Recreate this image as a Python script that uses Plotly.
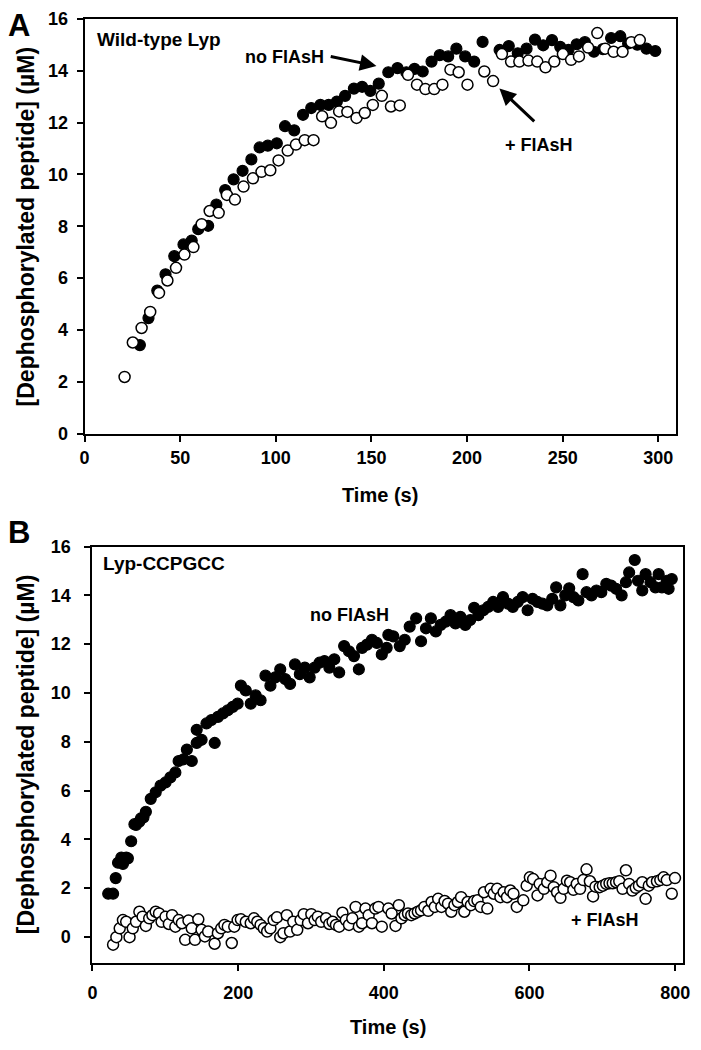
import plotly.graph_objects as go

# ---------------- Panel A: Wild-type Lyp ----------------
a_nofl_t = [28.9, 33.4, 38.0, 42.3, 46.9, 51.7, 56.0, 59.4, 64.6, 68.9,
            73.5, 77.9, 82.6, 87.2, 91.5, 95.8, 100.5, 104.8, 109.6, 114.2,
            118.5, 123.3, 127.6, 131.9, 136.2, 140.8, 145.1, 149.4, 153.8, 158.8,
            163.6, 168.2, 172.5, 176.8, 181.4, 185.7, 190.1, 194.4, 199.0, 203.7,
            208.1, 217.0, 221.8, 226.5, 231.1, 235.5, 239.8, 244.4, 248.7, 253.0,
            257.3, 261.6, 266.3, 271.0, 275.3, 280.1, 284.2, 289.0, 293.8, 298.4]
a_nofl_v = [3.42, 4.46, 5.52, 6.15, 6.85, 7.30, 7.45, 7.89, 8.02, 8.84,
            9.40, 9.81, 10.14, 10.58, 11.04, 11.11, 11.20, 11.86, 11.70, 12.30,
            12.56, 12.68, 12.68, 12.81, 13.03, 13.31, 13.38, 13.22, 13.50, 13.94,
            14.10, 13.94, 14.07, 13.97, 14.35, 14.60, 14.55, 14.85, 14.55, 14.35,
            15.11, 14.80, 14.95, 14.67, 14.85, 15.20, 14.98, 15.18, 14.92, 14.80,
            15.02, 15.10, 14.73, 14.83, 15.26, 15.33, 15.05, 15.00, 14.85, 14.76]

a_fl_t = [20.9, 25.2, 29.8, 34.3, 38.9, 43.3, 47.8, 52.2, 56.9, 61.2,
          65.4, 70.1, 74.4, 78.6, 83.1, 88.0, 92.5, 97.1, 101.4, 106.2,
          110.5, 115.1, 119.7, 124.2, 128.8, 133.1, 137.4, 142.2, 146.5, 150.7,
          155.4, 160.2, 164.8, 169.1, 173.8, 178.2, 182.8, 187.1, 191.3, 195.6,
          200.2, 209.0, 213.6, 218.2, 223.0, 227.3, 232.1, 236.7, 241.0, 245.6,
          250.1, 254.4, 258.5, 263.3, 268.1, 272.2, 276.6, 281.3, 285.9, 290.3]
a_fl_v = [2.19, 3.52, 4.08, 4.70, 5.43, 5.91, 6.40, 6.91, 7.20, 8.08,
          8.59, 8.52, 9.21, 9.03, 9.53, 9.85, 10.10, 10.16, 10.54, 10.92,
          11.15, 11.32, 11.32, 12.24, 11.99, 12.43, 12.41, 12.18, 12.37, 12.68,
          13.03, 12.62, 12.66, 13.84, 13.46, 13.29, 13.29, 13.46, 14.04, 13.94,
          13.46, 13.97, 13.60, 14.64, 14.35, 14.35, 14.39, 14.35, 14.13, 14.35,
          14.64, 14.42, 14.55, 14.89, 15.45, 14.85, 14.73, 14.73, 15.10, 15.18]

# ---------------- Panel B: Lyp-CCPGCC ----------------
b_nofl_t = [21.6, 28.3, 31.9, 35.1, 39.6, 41.8, 46.4, 48.6, 53.1, 57.6,
            59.8, 64.3, 66.6, 70.0, 73.3, 80.0, 86.8, 93.5, 100.3, 107.0,
            113.8, 118.3, 125.0, 129.6, 136.3, 143.1, 143.1, 149.8, 156.5, 163.3,
            167.8, 172.3, 179.1, 185.8, 192.6, 199.3, 203.8, 210.5, 217.3, 224.0,
            230.8, 237.5, 244.3, 251.0, 257.8, 264.5, 271.3, 278.0, 284.7, 291.5,
            298.2, 305.0, 311.7, 318.5, 325.2, 332.0, 338.7, 345.5, 352.2, 359.0,
            365.7, 370.2, 376.9, 383.7, 390.4, 397.2, 403.9, 406.2, 413.0, 421.9,
            428.7, 435.5, 444.4, 451.1, 457.9, 464.6, 471.4, 478.1, 484.9, 491.6,
            498.4, 505.1, 511.9, 518.6, 524.0, 529.8, 536.6, 543.3, 550.1, 556.9,
            563.6, 570.4, 577.1, 583.9, 590.6, 597.4, 604.2, 610.9, 617.7, 624.4,
            631.2, 636.6, 642.4, 649.1, 654.5, 660.3, 667.1, 672.9, 678.3, 685.1,
            691.9, 698.6, 705.4, 712.1, 718.9, 726.5, 732.4, 736.8, 744.5, 749.0,
            754.8, 759.4, 766.1, 772.9, 777.3, 781.8, 788.5, 791.0, 795.3]
b_nofl_v = [1.77, 1.77, 2.41, 3.04, 3.25, 2.99, 3.25, 3.22, 3.92, 4.62,
            4.59, 4.72, 4.86, 4.90, 5.13, 5.66, 5.93, 6.20, 6.33, 6.54,
            6.74, 7.21, 7.28, 7.68, 7.21, 7.95, 8.49, 8.08, 8.75, 8.89,
            7.95, 9.02, 9.16, 9.29, 9.43, 9.56, 10.30, 10.10, 9.56, 9.90,
            9.70, 10.71, 10.30, 10.64, 10.97, 10.57, 10.37, 11.17, 10.77, 11.04,
            10.64, 11.04, 11.24, 11.31, 11.04, 11.38, 10.84, 11.92, 11.71, 11.51,
            10.97, 11.85, 11.98, 12.18, 12.05, 11.58, 11.85, 12.38, 12.32, 11.92,
            12.18, 12.72, 13.06, 12.12, 12.65, 13.06, 12.52, 12.79, 12.92, 13.19,
            12.85, 13.12, 12.79, 12.99, 13.49, 13.19, 13.39, 13.53, 13.73, 13.53,
            13.93, 13.66, 13.53, 13.73, 13.93, 13.39, 13.86, 13.73, 13.66, 13.59,
            13.86, 14.33, 13.59, 14.00, 14.29, 13.93, 13.79, 14.87, 14.13, 14.00,
            14.20, 14.13, 14.47, 14.40, 14.27, 14.00, 14.54, 14.94, 15.45, 14.60,
            14.20, 14.87, 14.54, 14.33, 14.87, 14.33, 14.60, 14.27, 14.67]

b_fl_t = [28.3, 32.8, 37.4, 41.8, 46.3, 50.9, 55.3, 59.8, 64.4, 68.8,
          73.3, 77.9, 82.3, 86.8, 91.4, 94.9, 100.3, 104.9, 109.3, 113.8,
          118.4, 122.8, 127.3, 131.8, 136.3, 140.7, 145.3, 149.8, 154.3, 158.8,
          167.7, 172.2, 176.8, 181.2, 185.8, 191.2, 194.7, 199.3, 203.8, 210.5,
          217.3, 221.7, 226.3, 230.8, 235.2, 239.8, 244.3, 248.7, 253.3, 257.8,
          262.2, 266.8, 271.3, 275.7, 281.1, 285.7, 290.1, 295.9, 300.5, 305.0,
          309.4, 314.0, 320.7, 325.2, 329.7, 334.3, 338.7, 343.2, 347.8, 352.2,
          356.7, 361.3, 365.7, 370.2, 374.8, 379.2, 383.7, 388.2, 392.7, 397.2,
          406.2, 410.7, 416.1, 420.6, 424.2, 428.7, 433.2, 437.7, 442.2, 446.7,
          451.1, 455.7, 461.0, 465.6, 470.0, 474.6, 479.1, 483.5, 488.1, 492.6,
          497.0, 501.6, 506.1, 510.5, 515.1, 519.6, 524.0, 528.6, 533.1, 537.5,
          542.1, 546.6, 551.0, 555.6, 560.1, 564.5, 569.1, 573.6, 578.0, 582.6,
          591.5, 596.1, 600.5, 605.0, 611.0, 614.0, 619.8, 624.4, 628.9, 633.3,
          637.9, 642.4, 646.8, 651.4, 655.9, 660.3, 664.9, 669.4, 673.8, 678.3,
          682.9, 687.3, 690.6, 696.4, 700.8, 705.4, 709.9, 714.3, 718.9, 723.3,
          727.8, 732.4, 736.8, 741.3, 745.9, 750.3, 754.8, 759.4, 763.8, 768.3,
          775.0, 779.6, 784.1, 788.5, 795.3, 799.7]
b_fl_v = [-0.32, -0.01, 0.35, 0.69, 0.62, -0.01, 0.35, 0.62, 1.03, 0.83,
          0.45, 0.76, 0.89, 1.03, 0.96, 0.62, 0.83, 0.53, 0.89, 0.42,
          0.69, 0.56, -0.12, 0.67, 0.35, -0.12, 0.72, 0.29, 0.02, 0.22,
          -0.28, 0.15, 0.35, 0.49, 0.42, -0.25, 0.42, 0.69, 0.72, 0.62,
          0.56, 0.76, 0.62, 0.49, 0.35, 0.22, 0.35, 0.69, 0.80, -0.01,
          0.15, 0.89, 0.22, 0.62, 0.29, 0.69, 0.93, 0.56, 0.93, 0.69,
          0.83, 0.62, 0.76, 0.53, 0.62, 0.49, 0.42, 0.99, 0.69, 0.49,
          0.76, 1.23, 0.42, 0.56, 1.16, 0.89, 0.56, 1.16, 1.23, 0.42,
          1.16, 0.96, 0.45, 1.30, 0.76, 0.89, 0.96, 0.89, 0.96, 1.03,
          1.09, 1.23, 1.07, 1.43, 1.23, 1.56, 1.23, 1.47, 1.36, 1.03,
          1.30, 1.43, 1.63, 1.03, 1.43, 1.30, 1.47, 1.50, 1.23, 1.83,
          1.16, 1.97, 1.77, 1.97, 1.63, 1.83, 1.63, 1.90, 1.77, 1.23,
          1.50, 2.10, 2.44, 2.37, 1.70, 2.17, 1.97, 2.24, 2.51, 2.04,
          1.83, 1.60, 1.97, 2.30, 2.24, 1.93, 2.17, 1.97, 2.33, 2.77,
          2.28, 1.66, 2.06, 2.04, 2.10, 2.17, 2.20, 2.20, 2.24, 2.28,
          1.97, 2.73, 2.17, 1.90, 2.01, 2.10, 2.24, 1.56, 2.10, 2.24,
          2.28, 2.33, 2.44, 2.33, 1.77, 2.41]

a_xticks = [0, 50, 100, 150, 200, 250, 300]
b_xticks = [0, 200, 400, 600, 800]
a_yticks = [0, 2, 4, 6, 8, 10, 12, 14, 16]
b_yticks = [0, 2, 4, 6, 8, 10, 12, 14, 16]

W, H = 701, 1050
FONT = "Liberation Sans, Arial, sans-serif"
MS = 11


def px(x):
    return x / W


def py(y):
    return 1 - y / H


def bold(size):
    return dict(family=FONT, size=size, color="black", weight="bold")


filled = dict(symbol="circle", size=MS, color="black", line=dict(color="black", width=1.2))
hollow = dict(symbol="circle", size=MS, color="white", line=dict(color="black", width=1.5))

fig = go.Figure()
fig.add_trace(go.Scatter(x=a_nofl_t, y=a_nofl_v, mode="markers", marker=filled,
                         xaxis="x", yaxis="y", name="no FlAsH", showlegend=False))
fig.add_trace(go.Scatter(x=a_fl_t, y=a_fl_v, mode="markers", marker=hollow,
                         xaxis="x", yaxis="y", name="+ FlAsH", showlegend=False))
fig.add_trace(go.Scatter(x=b_nofl_t, y=b_nofl_v, mode="markers", marker=filled,
                         xaxis="x2", yaxis="y2", name="no FlAsH", showlegend=False))
fig.add_trace(go.Scatter(x=b_fl_t, y=b_fl_v, mode="markers", marker=hollow,
                         xaxis="x2", yaxis="y2", name="+ FlAsH", showlegend=False))

axis_common = dict(showline=True, linecolor="black", linewidth=2, mirror=True,
                   ticks="outside", ticklen=6, tickwidth=2, tickcolor="black",
                   showgrid=False, zeroline=False, tickfont=bold(18),
                   ticklabeloverflow="allow")

fig.update_layout(
    width=W, height=H,
    margin=dict(l=0, r=0, t=0, b=0),
    paper_bgcolor="white", plot_bgcolor="white",
    font=dict(family=FONT, color="black"),
    xaxis=dict(domain=[px(81), px(683)], range=[0, 309.4], tickvals=a_xticks,
               anchor="y", ticklabelstandoff=1, **axis_common),
    yaxis=dict(domain=[py(432), py(9)], range=[0, 16], tickvals=a_yticks,
               anchor="x", ticklabelstandoff=5, **axis_common),
    xaxis2=dict(domain=[px(89), px(690)], range=[0, 811], tickvals=b_xticks,
                anchor="y2", ticklabelstandoff=7, **axis_common),
    yaxis2=dict(domain=[py(971), py(547)], range=[-1.05, 16], tickvals=b_yticks,
                anchor="x2", ticklabelstandoff=10, **axis_common),
)


def label(text, x, y, size, xanchor="center"):
    return dict(text=text, x=px(x), y=py(y), xref="paper", yref="paper",
                xanchor=xanchor, yanchor="middle", showarrow=False, font=bold(size))


ann = []
# panel letters
ann.append(label("A", 1, 16, 31, "left"))
ann.append(label("B", 1, 533, 31, "left"))
# axis titles
ytitle = "[Dephosphorylated peptide] (µM)"
t1 = label(ytitle, 21, 221, 23)
t1["textangle"] = -90
t2 = label(ytitle, 21, 759, 23)
t2["textangle"] = -90
ann += [t1, t2]
ann.append(label("Time (s)", 382, 494, 20))
ann.append(label("Time (s)", 390, 1037, 20))
# in-plot labels
ann.append(label("Wild-type Lyp", 92, 30, 19, "left"))
ann.append(label("Lyp-CCPGCC", 98, 564, 19, "left"))
ann.append(label("no FlAsH", 327, 48, 18, "right"))
ann.append(label("+ FlAsH", 507, 138, 18, "left"))
ann.append(label("no FlAsH", 351, 617, 18))
ann.append(label("+ FlAsH", 610, 928, 18))
# arrows (panel A)
ann.append(dict(text="", x=152.6, y=14.18, ax=127.9, ay=14.56, xref="x", yref="y",
                axref="x", ayref="y", showarrow=True, arrowhead=2, arrowsize=1.1,
                arrowwidth=3, arrowcolor="black"))
ann.append(dict(text="", x=216.9, y=13.31, ax=235.9, ay=11.99, xref="x", yref="y",
                axref="x", ayref="y", showarrow=True, arrowhead=2, arrowsize=1.1,
                arrowwidth=3, arrowcolor="black"))
fig.update_layout(annotations=ann)

fig.write_html("out.html", config={"displayModeBar": False},
               post_script="document.body.style.margin='0';document.body.style.overflow='hidden';")
